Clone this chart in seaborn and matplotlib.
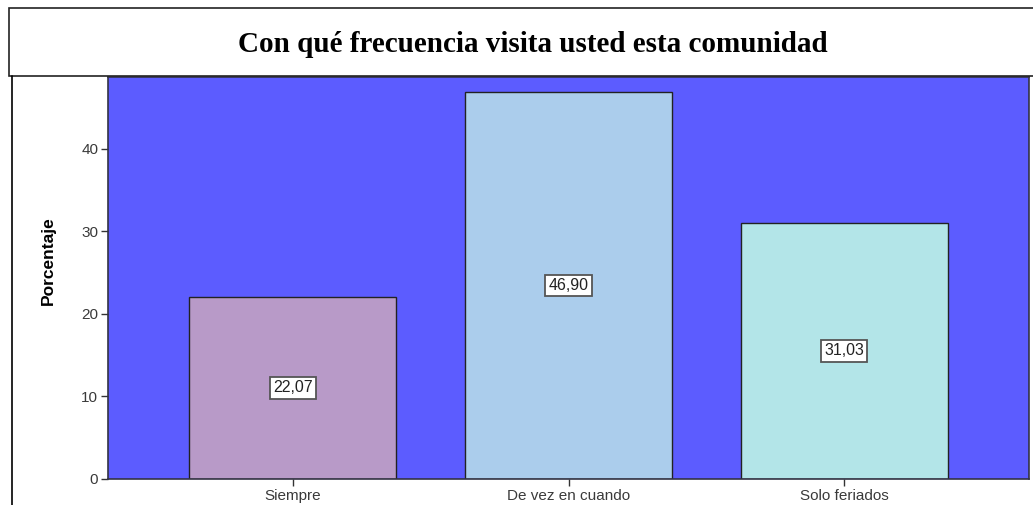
import matplotlib
matplotlib.use('Agg')
import matplotlib.pyplot as plt
import seaborn as sns
import pandas as pd
from matplotlib.patches import Rectangle

# Datos del gráfico
categorias = ['Siempre', 'De vez en cuando', 'Solo feriados']
porcentajes = [22.07, 46.90, 31.03]
colores = ['#b89ac8', '#abcdec', '#b3e5e8']

df = pd.DataFrame({'categoria': categorias, 'porcentaje': porcentajes})

sns.set_style('white')
plt.rcParams['font.family'] = ['Liberation Sans', 'DejaVu Sans']

fig = plt.figure(figsize=(10.33, 5.05), dpi=100)
W, H = 1033, 505

# Caja del título
fig.patches.append(Rectangle((9 / W, 1 - 76 / H), 1.1, 68 / H, transform=fig.transFigure,
                             facecolor='white', edgecolor='#222222', linewidth=1.2))
fig.text(533 / W, 1 - 45 / H, 'Con qué frecuencia visita usted esta comunidad',
         ha='center', va='center', fontsize=21, fontweight='bold', color='black',
         family=['Liberation Serif', 'DejaVu Serif'])
# Borde izquierdo
fig.add_artist(plt.Line2D([12 / W, 12 / W], [0, 1 - 76 / H], transform=fig.transFigure,
                          color='black', linewidth=1.2))

ax = fig.add_axes([108 / W, 1 - 479 / H, (1029 - 108) / W, (479 - 77) / H])
ax.set_facecolor('#5c5cff')

sns.barplot(data=df, x='categoria', y='porcentaje', hue='categoria', palette=colores,
            saturation=1, width=0.75, edgecolor='#222222', linewidth=1, legend=False, ax=ax)

ax.set_xlim(-0.67, 2.67)
ax.set_ylim(0, 48.7)
ax.set_yticks([0, 10, 20, 30, 40])
ax.tick_params(axis='both', colors='#333333', labelsize=11, length=5, width=1,
               direction='out', left=True, bottom=True, pad=2)
ax.tick_params(axis='both', labelcolor='#3a3a3a')
ax.set_xlabel('')
ax.set_ylabel('Porcentaje', fontsize=12.5, fontweight='bold', color='black')
ax.yaxis.set_label_coords(-0.057, 0.542)

for s in ax.spines.values():
    s.set_color('#333344')
    s.set_linewidth(1.2)

# Etiquetas de valor
for i, v in enumerate(porcentajes):
    ax.text(i, v / 2, f'{v:.2f}'.replace('.', ','), ha='center', va='center',
            fontsize=11.5, color='#222222',
            bbox=dict(boxstyle='square,pad=0.2', facecolor='white',
                      edgecolor='#555555', linewidth=1.3))

fig.savefig('out.png', dpi=100)
